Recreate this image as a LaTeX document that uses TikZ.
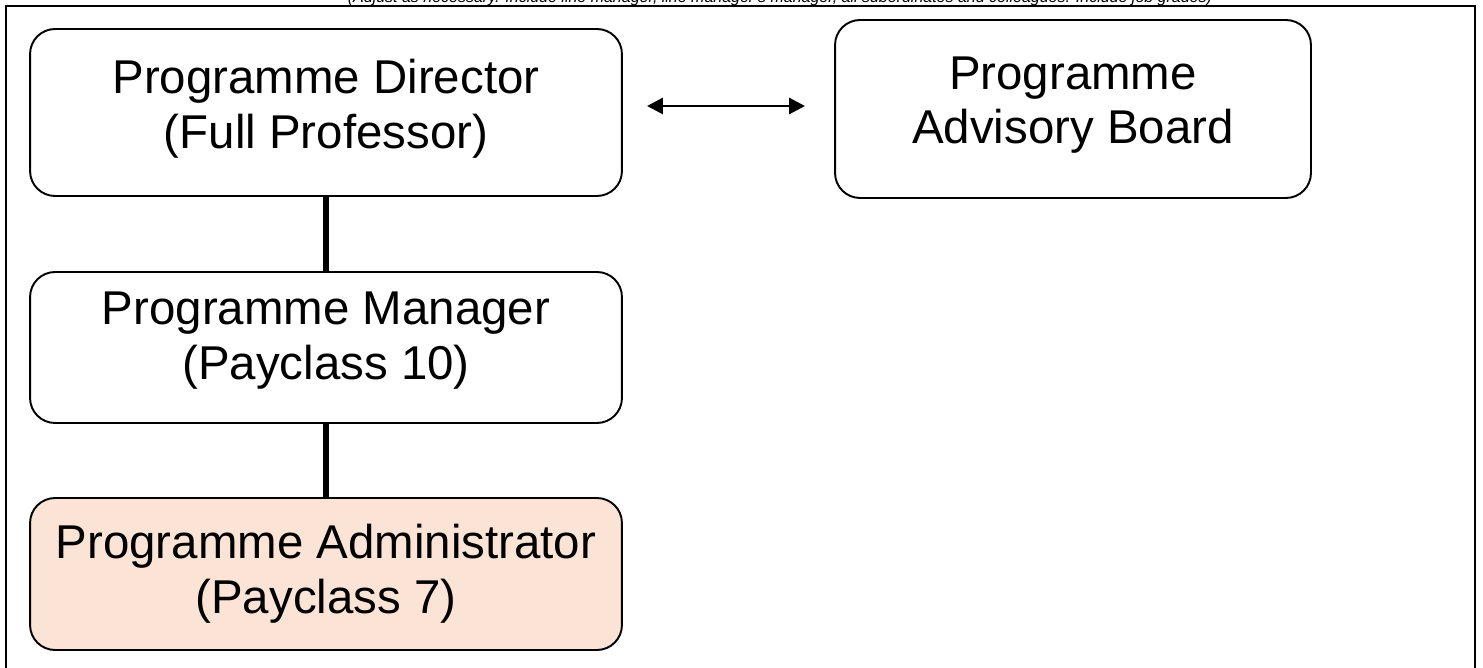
\documentclass[tikz,border=0pt]{standalone}
\usepackage{fontspec}
\setmainfont{Liberation Sans}
\usetikzlibrary{arrows.meta}
\begin{document}
\begin{tikzpicture}[x=0.02cm,y=-0.02cm]
            \tikzstyle{poste}=[rectangle,rounded corners=0.5cm,draw,line width=1.1pt,align=center,
                font=\fontsize{27}{31.2}\selectfont,inner sep=0pt,minimum width=11.84cm]
            \tikzstyle{lien}=[line width=3.3pt]
            \useasboundingbox (0,0) rectangle (1483,668);
            \draw[line width=1.4pt] (6,6) rectangle (1475,690);
            \node[anchor=base,font=\fontsize{9.1}{10}\selectfont\itshape] (note) at (780,3)
                {(Adjust as necessary. Include line manager, line manager's manager, all subordinates and colleagues. Include job grades)};
            \node[poste,minimum height=3.34cm,text depth=10pt] (dir) at (326,112.5) {Programme Director\\(Full Professor)};
            \node[poste,minimum width=9.52cm,minimum height=3.56cm,text depth=10pt] (adv) at (1073,109) {Programme\\Advisory Board};
            \node[poste,minimum height=3.02cm,text depth=13pt] (man) at (326,347.5) {Programme Manager\\(Payclass 10)};
            \node[poste,minimum height=3.04cm,fill={rgb,255:red,251;green,228;blue,214}] (adm) at (326,574)
                {Programme Administrator\\(Payclass 7)};
            \coordinate (g) at (647,106);
            \coordinate (d) at (805,106);
            \draw[line width=1.7pt,{Triangle[length=9pt,width=9pt]}-{Triangle[length=9pt,width=9pt]}] (g) -- (d);
            \draw[lien] (man.north) -- (dir.south);
            \draw[lien] (adm.north) -- (man.south);
        \end{tikzpicture}
\end{document}
